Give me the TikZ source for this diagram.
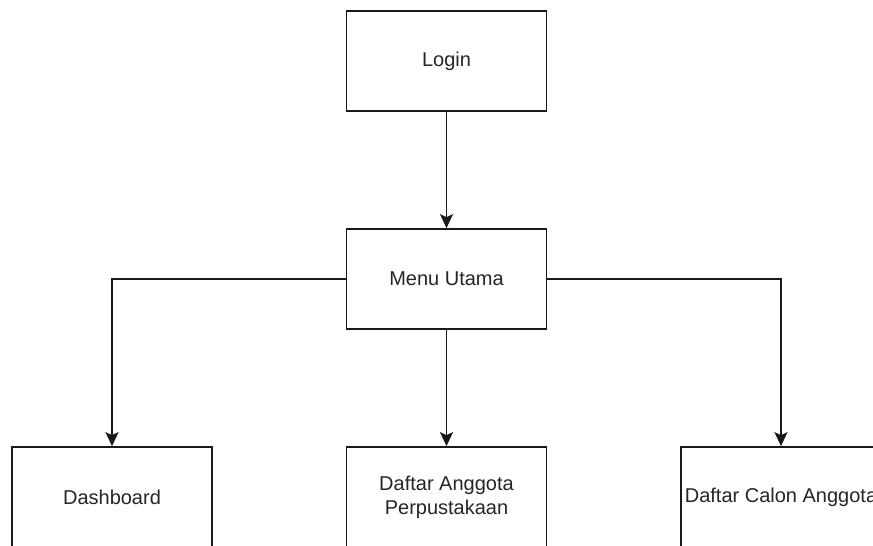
\documentclass[tikz,border=0pt]{standalone}
\usepackage{fontspec}
\setmainfont{Liberation Sans}
\usetikzlibrary{arrows.meta}
\begin{document}
\begin{tikzpicture}[x=1pt,y=-1pt,
  box/.style={draw=black!90, line width=1.7pt, fill=white, rectangle,
    minimum width=200pt, minimum height=100pt, inner sep=0pt,
    align=center, text=black!85, font=\fontsize{20}{24}\selectfont},
  link/.style={draw=black!90, line width=1.7pt,
    -{Stealth[length=14pt, width=13pt, inset=3pt]}}]
  \useasboundingbox (0,0) rectangle (873,546);
  \clip (0,0) rectangle (873,546);
  % menu pages
  \node[box] (login) at (446.5,61) {Login};
  \node[box] (menu) at (446.5,279) {Menu Utama};
  \node[box] (dash) at (112,497) {Dashboard};
  \node[box] (anggota) at (446.5,497) {Daftar Anggota\\Perpustakaan};
  \node[box] (calon) at (781,497) {Daftar Calon Anggota};
  % navigation
  \draw[link] (login) -- (menu);
  \draw[link] (menu.west) -| (dash.north);
  \draw[link] (menu) -- (anggota);
  \draw[link] (menu.east) -| (calon.north);
\end{tikzpicture}
\end{document}
